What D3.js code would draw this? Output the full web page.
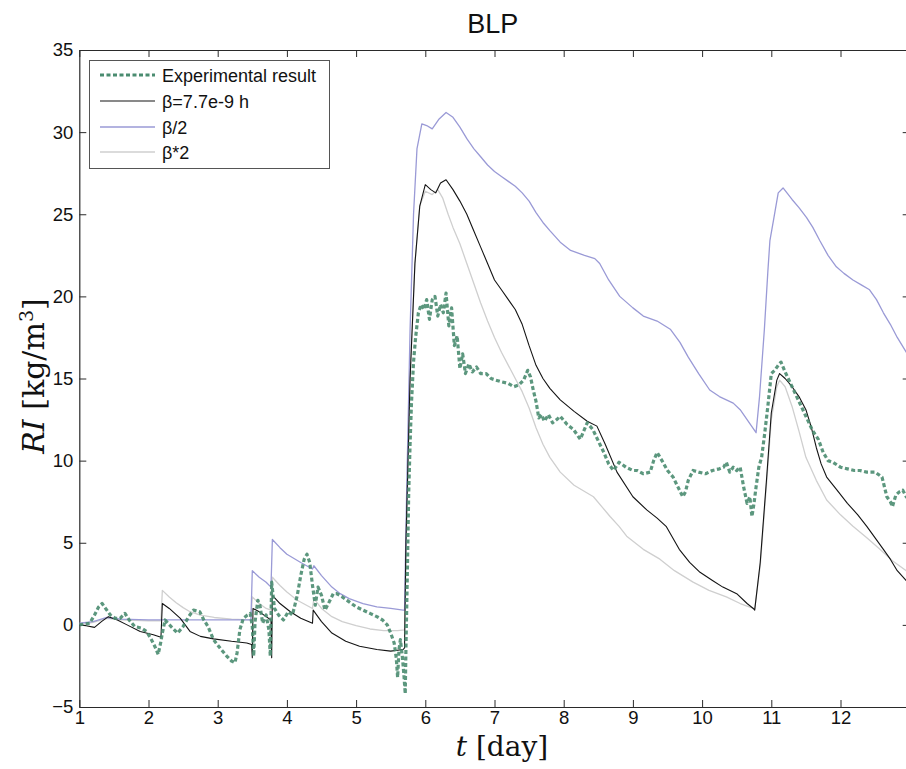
<!DOCTYPE html>
<html>
<head>
<meta charset="utf-8">
<script src="https://cdn.jsdelivr.net/npm/d3@7"></script>
<style>
  html, body { margin: 0; padding: 0; background: #fff; }
  svg { display: block; }
  .tick text { font-family: "Liberation Sans", Arial, sans-serif; }
</style>
</head>
<body>
<svg id="chart" width="906" height="769"></svg>
<script>
// ---- data ----
const chartTitle = "BLP";
const xTicks = [1, 2, 3, 4, 5, 6, 7, 8, 9, 10, 11, 12];
const yTicks = [-5, 0, 5, 10, 15, 20, 25, 30, 35];
const seriesNames = ["Experimental result", "\u03b2=7.7e-9 h", "\u03b2/2", "\u03b2*2"];

// measured RI
const tExp = [1.00,1.08,1.15,1.22,1.28,1.33,1.38,1.45,1.52,1.59,1.66,1.72,1.80,1.90,1.97,2.03,2.09,2.14,2.18,2.20,2.24,2.28,2.35,2.42,2.50,2.58,2.65,2.74,2.80,2.86,2.94,3.05,3.13,3.20,3.25,3.28,3.32,3.37,3.43,3.47,3.50,3.52,3.54,3.58,3.61,3.65,3.70,3.74,3.76,3.78,3.82,3.88,3.95,4.02,4.08,4.15,4.20,4.25,4.29,4.33,4.37,4.41,4.45,4.50,4.55,4.60,4.67,4.72,4.80,4.90,5.00,5.10,5.20,5.30,5.38,5.45,5.50,5.55,5.58,5.60,5.62,5.64,5.67,5.69,5.71,5.72,5.74,5.76,5.78,5.80,5.83,5.86,5.90,5.94,5.98,6.02,6.06,6.10,6.14,6.18,6.22,6.26,6.30,6.34,6.38,6.42,6.46,6.50,6.54,6.58,6.63,6.68,6.74,6.80,6.88,6.95,7.02,7.10,7.20,7.28,7.35,7.42,7.48,7.52,7.56,7.60,7.64,7.68,7.72,7.78,7.84,7.90,7.95,8.05,8.14,8.24,8.34,8.42,8.50,8.58,8.65,8.72,8.80,8.90,9.00,9.06,9.15,9.25,9.30,9.35,9.42,9.50,9.58,9.65,9.72,9.76,9.80,9.87,9.95,10.05,10.15,10.25,10.31,10.35,10.40,10.45,10.50,10.55,10.60,10.65,10.69,10.72,10.75,10.78,10.82,10.86,10.90,10.95,11.00,11.05,11.10,11.14,11.20,11.30,11.40,11.50,11.60,11.68,11.75,11.82,11.89,12.00,12.10,12.20,12.28,12.38,12.50,12.60,12.67,12.72,12.75,12.80,12.85,12.90,12.95,13.00];
const vExp = [0.0,0.05,0.1,0.6,1.1,1.3,1.0,0.6,0.4,0.4,0.7,0.3,-0.1,-0.2,-0.4,-0.8,-1.3,-1.8,-1.0,-0.5,0.3,0.1,-0.2,-0.5,-0.1,0.5,0.9,0.8,0.3,-0.1,-0.9,-1.5,-1.9,-2.2,-2.3,-1.7,-0.3,0.4,0.6,0.7,-0.1,-1.9,0.2,1.5,1.2,0.1,0.6,-0.3,-1.9,2.6,1.0,0.6,0.3,0.8,0.6,1.8,3.0,4.0,4.3,3.8,2.4,1.2,2.3,1.8,0.9,1.3,1.9,1.9,1.7,1.4,1.1,0.9,0.7,0.5,0.3,0.0,-0.5,-1.1,-2.0,-3.2,-1.5,-0.9,-2.0,-3.0,-4.2,-1.5,3.0,8.0,11.0,13.5,16.0,17.5,19.0,19.5,19.2,19.8,18.6,19.8,20.0,18.8,19.5,19.0,20.2,18.2,19.3,17.0,17.6,15.6,16.5,15.3,15.9,15.4,15.7,15.3,15.3,15.0,14.9,14.8,14.7,14.5,14.6,14.9,15.5,15.1,14.3,13.6,12.6,12.8,12.4,12.8,12.3,12.5,12.7,12.2,11.9,11.3,12.3,11.9,11.2,10.5,9.8,9.4,9.9,9.6,9.4,9.4,9.2,9.3,10.0,10.5,10.0,9.4,9.0,8.4,7.8,8.1,8.8,9.4,9.3,9.2,9.4,9.5,9.6,9.9,9.3,9.6,9.4,9.6,8.4,7.4,7.8,6.6,7.4,8.4,9.6,10.2,11.5,13.3,15.3,15.5,15.8,16.0,15.4,14.5,13.6,12.7,11.8,11.3,10.5,10.0,9.9,9.6,9.5,9.4,9.4,9.3,9.3,9.0,7.8,7.5,7.2,7.9,8.1,8.2,7.8,7.6];

// model, beta = 7.7e-9 h
const tBeta = [1.00,1.10,1.22,1.32,1.42,1.55,1.69,1.88,2.07,2.18,2.20,2.30,2.46,2.60,2.75,2.94,3.20,3.42,3.49,3.50,3.51,3.60,3.70,3.77,3.78,3.79,3.90,4.05,4.20,4.37,4.38,4.50,4.65,4.85,5.05,5.30,5.50,5.68,5.70,5.72,5.78,5.85,5.92,6.00,6.08,6.15,6.22,6.30,6.40,6.50,6.60,6.70,6.80,6.90,7.00,7.10,7.20,7.30,7.40,7.50,7.60,7.70,7.80,7.95,8.15,8.34,8.48,8.60,8.77,9.00,9.20,9.35,9.48,9.67,9.82,9.97,10.15,10.30,10.50,10.65,10.74,10.76,10.84,10.93,11.00,11.08,11.12,11.20,11.30,11.40,11.50,11.58,11.65,11.72,11.80,11.95,12.10,12.25,12.38,12.50,12.62,12.72,12.82,12.95,13.00];
const vBeta = [0.0,-0.05,-0.15,0.2,0.5,0.3,0.0,-0.4,-0.6,-0.75,1.3,1.0,0.4,-0.4,-0.7,-0.85,-1.0,-1.1,-1.2,-2.0,1.0,0.8,0.5,0.3,-2.0,1.8,1.3,0.8,0.4,0.1,0.9,0.2,-0.5,-1.0,-1.3,-1.5,-1.6,-1.5,-1.4,5.0,15.0,22.0,25.5,26.8,26.5,26.3,26.9,27.1,26.5,25.8,25.0,24.0,23.0,22.0,21.0,20.4,19.8,19.2,18.3,17.0,15.8,15.0,14.4,13.7,13.0,12.4,12.1,11.0,9.3,7.8,7.0,6.5,6.0,4.6,3.8,3.2,2.7,2.3,1.9,1.3,1.0,0.9,3.8,8.8,12.9,14.9,15.3,15.0,14.5,13.9,13.1,12.0,10.8,9.8,9.0,8.2,7.4,6.7,6.0,5.3,4.6,4.0,3.3,2.7,2.5];

// model, beta / 2
const tHalf = [1.00,1.20,1.40,1.60,2.00,2.50,3.00,3.48,3.50,3.60,3.70,3.77,3.79,3.90,4.00,4.20,4.37,4.39,4.50,4.65,4.77,4.90,5.10,5.30,5.50,5.68,5.70,5.73,5.78,5.83,5.88,5.95,6.02,6.10,6.20,6.30,6.40,6.50,6.60,6.70,6.80,6.90,7.00,7.10,7.20,7.30,7.40,7.50,7.60,7.70,7.80,7.95,8.10,8.30,8.45,8.52,8.65,8.81,9.00,9.15,9.35,9.54,9.68,9.80,9.95,10.11,10.25,10.45,10.55,10.65,10.78,10.83,10.90,10.95,10.98,11.03,11.10,11.17,11.30,11.40,11.51,11.60,11.70,11.82,11.94,12.05,12.18,12.30,12.42,12.52,12.62,12.72,12.82,12.95,13.00];
const vHalf = [0.1,0.2,0.45,0.35,0.3,0.3,0.3,0.3,3.3,2.9,2.6,2.3,5.2,4.7,4.3,3.8,3.4,3.6,3.0,2.3,1.9,1.6,1.3,1.1,1.0,0.9,0.9,8.0,18.0,25.0,29.0,30.5,30.4,30.2,30.8,31.2,30.9,30.3,29.6,29.0,28.5,28.0,27.6,27.3,27.0,26.7,26.3,25.8,25.1,24.5,24.0,23.3,22.8,22.5,22.3,22.0,21.0,20.0,19.3,18.8,18.5,18.0,17.2,16.3,15.3,14.3,13.9,13.5,13.1,12.5,11.7,13.9,18.0,21.5,23.4,24.6,26.3,26.6,25.9,25.4,24.8,24.2,23.4,22.5,21.8,21.4,21.0,20.7,20.4,19.8,19.0,18.3,17.5,16.6,16.3];

// model, beta * 2
const tDouble = [1.00,1.20,1.40,1.60,2.00,2.18,2.20,2.30,2.40,2.50,2.60,2.75,2.95,3.20,3.48,3.50,3.60,3.70,3.77,3.79,3.90,4.00,4.15,4.37,4.39,4.50,4.65,4.80,5.00,5.20,5.40,5.60,5.70,5.73,5.78,5.85,5.92,6.00,6.10,6.18,6.25,6.33,6.40,6.50,6.60,6.70,6.80,6.90,7.00,7.10,7.20,7.30,7.40,7.50,7.60,7.70,7.80,7.95,8.15,8.43,8.55,8.67,8.80,8.91,9.15,9.39,9.60,9.87,10.10,10.35,10.55,10.74,10.76,10.84,10.93,11.00,11.08,11.12,11.20,11.30,11.40,11.50,11.65,11.80,12.00,12.18,12.38,12.57,12.75,12.95,13.00];
const vDouble = [0.0,0.15,0.4,0.3,0.25,0.25,2.1,1.7,1.35,1.05,0.8,0.6,0.45,0.35,0.3,1.7,1.3,1.0,0.9,2.9,2.4,2.0,1.5,1.0,1.6,1.0,0.5,0.2,-0.05,-0.25,-0.35,-0.35,-0.3,6.0,15.0,22.0,25.5,26.4,26.2,26.5,26.0,25.0,24.2,23.2,22.0,20.8,19.6,18.5,17.5,16.6,15.8,15.0,14.2,13.2,12.0,11.0,10.2,9.3,8.5,7.8,7.2,6.6,6.0,5.4,4.6,4.0,3.3,2.6,2.1,1.7,1.3,1.0,0.95,3.6,8.5,12.5,14.5,14.9,14.5,13.3,11.8,10.2,8.8,7.6,6.7,6.0,5.3,4.6,3.9,3.3,3.1];

// ---- layout ----
const svg = d3.select("#chart");
const plot = { left: 79.3, right: 909.7, top: 50, bottom: 707 };
const font = '"Liberation Sans", Arial, Helvetica, sans-serif';
const serif = '"DejaVu Serif", "Liberation Serif", "Times New Roman", serif';

const x = d3.scaleLinear().domain([1, 13]).range([plot.left, plot.right]);
const y = d3.scaleLinear().domain([-5, 35]).range([plot.bottom, plot.top]);

svg.append("defs").append("clipPath").attr("id", "plotclip")
  .append("rect")
  .attr("x", plot.left).attr("y", plot.top)
  .attr("width", plot.right - plot.left).attr("height", plot.bottom - plot.top);

// ---- axes (ticks pointing inward on all four sides) ----
const tickLen = 7;
const axisColor = "#2a2a2a";

function styleAxis(g) {
  g.select(".domain").attr("stroke", axisColor).attr("stroke-width", 1.2);
  g.selectAll(".tick line").attr("stroke", axisColor).attr("stroke-width", 1);
  g.selectAll(".tick text").attr("fill", "#111").style("font-family", font).style("font-size", "18.5px");
}

const xAxis = svg.append("g")
  .attr("transform", `translate(0,${plot.bottom})`)
  .call(d3.axisBottom(x).tickValues(xTicks).tickFormat(d3.format("d"))
    .tickSizeInner(-tickLen).tickSizeOuter(0).tickPadding(4));
styleAxis(xAxis);

const xAxisTop = svg.append("g")
  .attr("transform", `translate(0,${plot.top})`)
  .call(d3.axisTop(x).tickValues(xTicks).tickFormat("")
    .tickSizeInner(-tickLen).tickSizeOuter(0));
styleAxis(xAxisTop);

const yAxis = svg.append("g")
  .attr("transform", `translate(${plot.left},0)`)
  .call(d3.axisLeft(y).tickValues(yTicks).tickFormat(d3.format("d"))
    .tickSizeInner(-tickLen).tickSizeOuter(0).tickPadding(6));
styleAxis(yAxis);

const yAxisRight = svg.append("g")
  .attr("transform", `translate(${plot.right},0)`)
  .call(d3.axisRight(y).tickValues(yTicks).tickFormat("")
    .tickSizeInner(-tickLen).tickSizeOuter(0));
styleAxis(yAxisRight);

// ---- series ----
const line = d3.line().x(d => x(d[0])).y(d => y(d[1]));
const zip = (ts, vs) => ts.map((t, i) => [t, vs[i]]);

const series = [
  { name: seriesNames[3], data: zip(tDouble, vDouble), stroke: "#cfcfcf", width: 1.3, dash: null },
  { name: seriesNames[2], data: zip(tHalf, vHalf), stroke: "#9a9ad6", width: 1.3, dash: null },
  { name: seriesNames[1], data: zip(tBeta, vBeta), stroke: "#141414", width: 1.1, dash: null },
  { name: seriesNames[0], data: zip(tExp, vExp), stroke: "#4a8c70", width: 3.2, dash: "4,2.5" }
];

const linesG = svg.append("g").attr("clip-path", "url(#plotclip)");
series.forEach(s => {
  linesG.append("path")
    .datum(s.data)
    .attr("d", line)
    .attr("fill", "none")
    .attr("stroke", s.stroke)
    .attr("stroke-width", s.width)
    .attr("stroke-linejoin", "round")
    .attr("stroke-dasharray", s.dash)
    .attr("opacity", s.dash ? 0.9 : 1);
});

// ---- legend ----
const legend = svg.append("g");
legend.append("rect")
  .attr("x", 89.5).attr("y", 60.5).attr("width", 240).attr("height", 108)
  .attr("fill", "#fff").attr("stroke", "#555").attr("stroke-width", 1);

const legendItems = [series[3], series[2], series[1], series[0]];
const rowY = [75, 101, 127, 152];
legendItems.forEach((s, i) => {
  legend.append("line")
    .attr("x1", 100).attr("x2", 155).attr("y1", rowY[i]).attr("y2", rowY[i])
    .attr("stroke", s.stroke).attr("stroke-width", s.width)
    .attr("stroke-dasharray", s.dash);
  legend.append("text")
    .attr("x", 162).attr("y", rowY[i] + 6.5)
    .style("font-family", font).style("font-size", "18px").attr("fill", "#111")
    .text(s.name);
});

// ---- titles ----
svg.append("text")
  .attr("x", (plot.left + 906) / 2).attr("y", 33)
  .attr("text-anchor", "middle")
  .style("font-family", font).style("font-size", "27px").attr("fill", "#111")
  .text(chartTitle);

const xl = svg.append("text")
  .attr("x", 502).attr("y", 756)
  .attr("text-anchor", "middle")
  .style("font-family", serif).style("font-size", "28px").attr("fill", "#111");
xl.append("tspan").style("font-style", "italic").text("t");
xl.append("tspan").text(" [day]");

const yl = svg.append("text")
  .attr("transform", "translate(44,376) rotate(-90)")
  .attr("text-anchor", "middle")
  .style("font-family", serif).style("font-size", "30px").attr("fill", "#111");
yl.append("tspan").style("font-style", "italic").text("RI");
yl.append("tspan").text(" [kg/m");
yl.append("tspan").attr("dy", -11).style("font-size", "19px").text("3");
yl.append("tspan").attr("dy", 11).text("]");
</script>
</body>
</html>
